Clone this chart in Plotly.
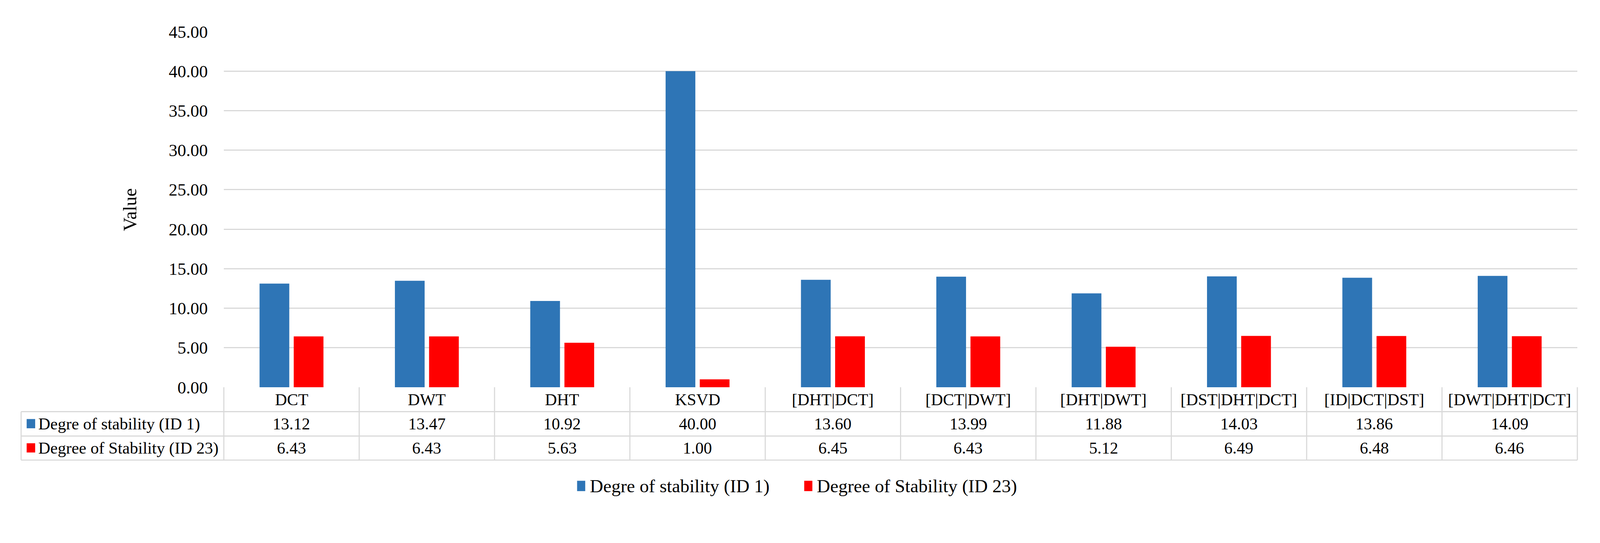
import plotly.graph_objects as go

# ---------------- data ----------------
categories = ["DCT", "DWT", "DHT", "KSVD", "[DHT|DCT]", "[DCT|DWT]", "[DHT|DWT]",
              "[DST|DHT|DCT]", "[ID|DCT|DST]", "[DWT|DHT|DCT]"]
series1_name = "Degre of stability (ID 1)"
series1_vals = [13.12, 13.47, 10.92, 40.00, 13.60, 13.99, 11.88, 14.03, 13.86, 14.09]
series2_name = "Degree of Stability (ID 23)"
series2_vals = [6.43, 6.43, 5.63, 1.00, 6.45, 6.43, 5.12, 6.49, 6.48, 6.46]
y_ticks = [0, 5, 10, 15, 20, 25, 30, 35, 40, 45]

# ---------------- style ----------------
BLUE = "#2E75B6"
RED = "#FF0000"
GRID = "#D9D9D9"
FONT = "Liberation Serif, Times New Roman, serif"

# the page is photographed slightly enlarged and offset by the body margin;
# convert target picture pixels into page (css) pixels
F = 1.056
OFF = 8.0


def P(v):      # position
    return v / F - OFF


def S(v):      # size
    return v / F


FIG_W, FIG_H = 4090, 1296
L, R, T, B = P(605), P(4264), P(86), P(1048)
PW, PH = R - L, B - T


def px_x(px):
    return (P(px) - L) / PW


def px_y(py):
    return (B - P(py)) / PH


fig = go.Figure()
fig.add_trace(go.Bar(x=categories, y=series1_vals, name=series1_name,
                     marker=dict(color=BLUE, line=dict(width=0)), showlegend=False))
fig.add_trace(go.Bar(x=categories, y=series2_vals, name=series2_name,
                     marker=dict(color=RED, line=dict(width=0)), showlegend=False))

shapes = []
annotations = []

row_lines = [1114, 1180, 1245]
header_mid = (1048 + row_lines[0]) / 2
row_mids = [(row_lines[0] + row_lines[1]) / 2, (row_lines[1] + row_lines[2]) / 2]
table_left = 57
TXT = S(45)

line_style = dict(color=GRID, width=S(3))

# data-table grid
for py in row_lines:
    shapes.append(dict(type="line", xref="paper", yref="paper",
                       x0=px_x(table_left), x1=1.0, y0=px_y(py), y1=px_y(py),
                       line=line_style, layer="above"))
n = len(categories)
for k in range(n + 1):
    shapes.append(dict(type="line", xref="paper", yref="paper",
                       x0=k / n, x1=k / n, y0=0, y1=px_y(row_lines[-1]),
                       line=line_style, layer="above"))
shapes.append(dict(type="line", xref="paper", yref="paper",
                   x0=px_x(table_left), x1=px_x(table_left),
                   y0=px_y(row_lines[0]), y1=px_y(row_lines[-1]),
                   line=line_style, layer="above"))

# header row: category names
for c in categories:
    annotations.append(dict(x=c, xref="x", y=px_y(header_mid), yref="paper",
                            text=c, showarrow=False, xanchor="center", yanchor="middle",
                            font=dict(family=FONT, size=TXT, color="#000000")))

# value rows with legend keys
for vals, name, color, pym in [(series1_vals, series1_name, BLUE, row_mids[0]),
                                (series2_vals, series2_name, RED, row_mids[1])]:
    for c, v in zip(categories, vals):
        annotations.append(dict(x=c, xref="x", y=px_y(pym), yref="paper",
                                text=f"{v:.2f}", showarrow=False,
                                xanchor="center", yanchor="middle",
                                font=dict(family=FONT, size=TXT, color="#000000")))
    shapes.append(dict(type="rect", xref="paper", yref="paper",
                       x0=px_x(72), x1=px_x(95), y0=px_y(pym - 13), y1=px_y(pym + 12),
                       fillcolor=color, line=dict(width=0), layer="above"))
    annotations.append(dict(x=px_x(101), xref="paper", y=px_y(pym), yref="paper",
                            text=name, showarrow=False, xanchor="left", yanchor="middle",
                            font=dict(family=FONT, size=TXT, color="#000000")))

# bottom legend (Excel style keys)
LEG_Y = 1315
for name, color, kx in [(series1_name, BLUE, 1560), (series2_name, RED, 2174)]:
    shapes.append(dict(type="rect", xref="paper", yref="paper",
                       x0=px_x(kx), x1=px_x(kx + 22),
                       y0=px_y(LEG_Y - 14), y1=px_y(LEG_Y + 14),
                       fillcolor=color, line=dict(width=0), layer="above"))
    annotations.append(dict(x=px_x(kx + 32), xref="paper", y=px_y(LEG_Y), yref="paper",
                            text=name, showarrow=False, xanchor="left", yanchor="middle",
                            font=dict(family=FONT, size=S(50), color="#000000")))

# y axis title
annotations.append(dict(x=px_x(351), xref="paper", y=0.5, yref="paper",
                        text="Value", textangle=-90, showarrow=False,
                        xanchor="center", yanchor="middle",
                        font=dict(family=FONT, size=S(51), color="#000000")))

fig.update_layout(
    width=FIG_W, height=FIG_H,
    margin=dict(l=L, r=FIG_W - R, t=T, b=FIG_H - B, pad=0),
    paper_bgcolor="white", plot_bgcolor="white",
    barmode="group", bargap=0.495, bargroupgap=0.13,
    font=dict(family=FONT, size=TXT, color="#000000"),
    showlegend=False,
    shapes=shapes,
    annotations=annotations,
    xaxis=dict(range=[-0.5, n - 0.5], showticklabels=False, showgrid=False,
               zeroline=False, showline=False, ticks=""),
    yaxis=dict(range=[0, 45], tickvals=y_ticks, tickformat=".2f",
               showgrid=True, gridcolor=GRID, gridwidth=S(3),
               zeroline=False, showline=False, ticks="",
               ticklabelstandoff=int(round(S(42))),
               tickfont=dict(family=FONT, size=S(47), color="#000000")),
)

fig.write_html("out.html")
